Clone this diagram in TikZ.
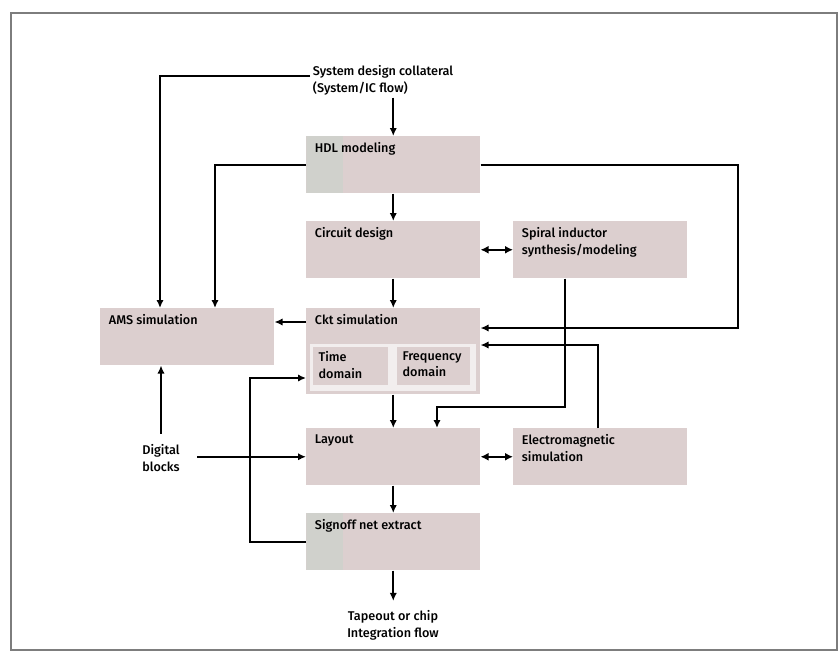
\documentclass[tikz,border=0pt]{standalone}
\usepackage{fontspec}
\setmainfont{Fira Sans Medium}
\usetikzlibrary{arrows.meta,calc,positioning}
\definecolor{boxpink}{RGB}{220,207,207}
\definecolor{boxstrip}{RGB}{208,209,204}
\definecolor{panelwhite}{RGB}{242,238,238}
\definecolor{framegray}{RGB}{125,125,125}
\tikzset{
  txt/.style={font=\fontsize{9.5}{12.5}\selectfont},
  blok/.style={rectangle,fill=boxpink,anchor=north west,inner sep=0pt,
               minimum width=130.5pt,minimum height=42.75pt},
  strip/.style={path picture={\fill[boxstrip] (path picture bounding box.south west)
               rectangle ([xshift=27.5pt]path picture bounding box.north west);}},
  lbl/.style={txt,anchor=north west,align=left,inner xsep=6.5pt,inner ysep=4.5pt},
  sublbl/.style={txt,anchor=north west,align=left,inner xsep=4pt,inner ysep=3pt},
  flw/.style={draw,line width=1.5pt,-{Latex[length=6pt,width=5.5pt]}},
  dbl/.style={draw,line width=1.8pt,{Latex[length=6pt,width=6pt]}-{Latex[length=6pt,width=6pt]}}
}
\begin{document}
\begin{tikzpicture}[x=0.75pt,y=-0.75pt]
\useasboundingbox (0,0) rectangle (840,653);
\draw[framegray,line width=0.8pt] (11,13) rectangle (837,650);
% main column
\node[txt,anchor=west,align=left,inner sep=2pt] (sys) at (310,80)
     {System design collateral\\(System/IC flow)};
\node[blok,strip,label={[lbl]north west:HDL modeling}] (hdl) at (306,136) {};
\node[blok,label={[lbl]north west:Circuit design}] (circ) at (306,221) {};
\node[blok,minimum height=64.5pt,label={[lbl]north west:Ckt simulation}] (ckt) at (306,308) {};
\node[blok,fill=panelwhite,minimum width=124.5pt,minimum height=35.25pt] (pan) at (310,344) {};
\node[blok,minimum width=56.25pt,minimum height=28.5pt,
      label={[sublbl]north west:{Time\\domain}}] (tdom) at (313,347) {};
\node[blok,minimum width=54.75pt,minimum height=28.5pt,
      label={[sublbl]north west:{Frequency\\domain}}] (fdom) at (397,347) {};
\node[blok,label={[lbl]north west:Layout}] (lay) at (306,428) {};
\node[blok,strip,label={[lbl]north west:Signoff net extract}] (sign) at (306,513) {};
\node[txt,align=center,inner sep=2pt,outer ysep=5pt] (tape) at (393,625)
     {Tapeout or chip\\Integration flow};
% side blocks
\node[blok,label={[lbl]north west:AMS simulation}] (ams) at (100,308) {};
\node[blok,label={[lbl]north west:{Spiral inductor\\synthesis/modeling}}] (spiral) at (513,221) {};
\node[blok,label={[lbl]north west:{Electromagnetic\\simulation}}] (em) at (513,428) {};
\node[txt,align=center,inner sep=2pt,outer xsep=11pt,outer ysep=6pt] (dig) at (161,458)
     {Digital\\blocks};
% bend points
\coordinate (amsA) at ($(ams.north west)+(60,0)$);
\coordinate (amsB) at ($(ams.north west)+(115,0)$);
\coordinate (fbR) at (738,328);
\coordinate (cktE1) at ($(ckt.north east)+(0,20)$);
\coordinate (cktE2) at ($(ckt.north east)+(0,37)$);
\coordinate (cktW1) at ($(ckt.north west)+(0,14)$);
\coordinate (cktW2) at ($(ckt.north west)+(0,70)$);
\coordinate (spD) at ($(spiral.south west)+(52,0)$);
\coordinate (layN) at ($(lay.north west)+(131,0)$);
\coordinate (emN) at ($(em.north west)+(85,0)$);
% connectors
\draw[flw] (sys.south -| hdl.north) -- (hdl.north);
\draw[flw] ($(sys.west)+(0,-4)$) -| (amsA);
\draw[flw] (hdl.west) -| (amsB);
\draw[flw] (hdl.east) -| (fbR) -- (cktE1);
\draw[flw] (hdl) -- (circ);
\draw[dbl] (circ.east) -- (spiral.west);
\draw[flw] (circ) -- (ckt);
\draw[flw] (cktW1) -- (cktW1 -| ams.east);
\draw[flw] (spD) -- ++(0,128) -| (layN);
\draw[flw] (emN) |- (cktE2);
\draw[flw] (ckt) -- (lay);
\draw[flw] (dig.north) -- (dig.north |- ams.south);
\draw[flw] (dig.east |- lay.west) -- (lay.west);
\draw[dbl] (lay.east) -- (em.west);
\draw[flw] (lay) -- (sign);
\draw[flw] (sign.west) -- ++(-56,0) |- (cktW2);
\draw[flw] (sign.south) -- (sign.south |- tape.north);
\end{tikzpicture}
\end{document}
